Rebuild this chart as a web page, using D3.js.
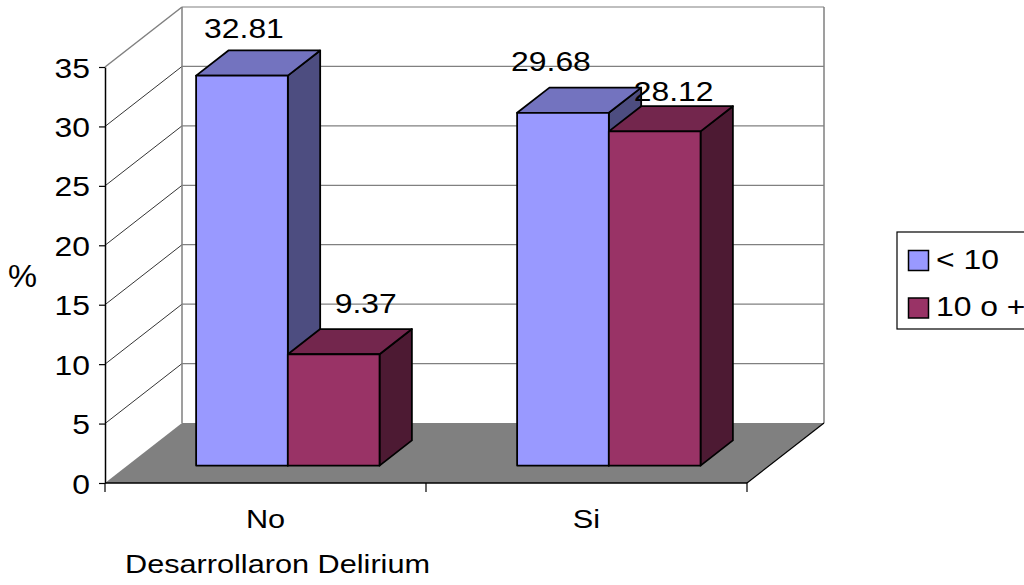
<!DOCTYPE html>
<html>
<head>
<meta charset="utf-8">
<script src="https://cdn.jsdelivr.net/npm/d3@7"></script>
<style>
  html, body { margin: 0; padding: 0; background: #ffffff; }
  svg { display: block; }
  text { font-family: "Liberation Sans", Arial, sans-serif; fill: #000; }
</style>
</head>
<body>
<svg id="chart" width="1024" height="585"></svg>
<script>
// Data
const categories = ["No", "Si"];
const seriesNames = ["< 10", "10 o +"];
const seriesLessThan10 = [32.81, 29.68];
const seriesTenOrMore = [9.37, 28.12];
const yTickValues = [0, 5, 10, 15, 20, 25, 30, 35];
const yAxisTitle = "%";
const xAxisTitle = "Desarrollaron Delirium";

const seriesValues = [seriesLessThan10, seriesTenOrMore];

// Styling / layout
const fronts = ["#9999ff", "#993366"];
const tops   = ["#7373bf", "#73264d"];
const sides  = ["#4d4d80", "#4d1a33"];
const DX = 77, DY = -60;            // depth vector of the 3D box
const barFront = 0.29, barBack = 0.71;
const SX = 1.18;                     // horizontal stretch of the lettering
// per-label nudges [series][category] relative to the bar's front top centre
const labelShift = [[[2, -38], [-12, -42]], [[32, -41], [19, -30]]];

const svg = d3.select("#chart");

const y = d3.scaleLinear().domain([0, 35]).range([483, 67]);
const x = d3.scaleBand().domain(categories).range([105, 747]).padding(0);
const barW = x.bandwidth() / 3.5;   // gap width 150%
const xs = d3.scaleBand().domain(d3.range(seriesNames.length))
  .range([0, barW * seriesNames.length]).padding(0);

const proj = (px, v, d) => [px + d * DX, y(v) + d * DY];
const line = d3.line();
const [x0, x1] = x.range();

// back wall gridlines
svg.append("g").selectAll("line").data(yTickValues.filter(v => v > 0)).join("line")
  .attr("x1", v => proj(x0, v, 1)[0]).attr("y1", v => proj(x0, v, 1)[1])
  .attr("x2", v => proj(x1, v, 1)[0]).attr("y2", v => proj(x1, v, 1)[1])
  .attr("stroke", "#808080").attr("stroke-width", 1.2);

// side wall gridlines
svg.append("g").selectAll("line").data(yTickValues.filter(v => v > 0)).join("line")
  .attr("x1", v => proj(x0, v, 0)[0]).attr("y1", v => proj(x0, v, 0)[1])
  .attr("x2", v => proj(x0, v, 1)[0]).attr("y2", v => proj(x0, v, 1)[1])
  .attr("stroke", v => v === 35 ? "#808080" : "#000").attr("stroke-width", v => v === 35 ? 1.5 : 0.8);

// walls outline
svg.append("path")
  .attr("d", line([proj(x0, 0, 1), proj(x0, 35, 1)]) + line([proj(x1, 0, 1), proj(x1, 35, 1)]))
  .attr("stroke", "#808080").attr("stroke-width", 1.5).attr("fill", "none");

// floor
svg.append("path")
  .attr("d", line([proj(x0, 0, 0), proj(x1, 0, 0), proj(x1, 0, 1), proj(x0, 0, 1)]) + "Z")
  .attr("fill", "#808080");
svg.append("path")
  .attr("d", line([proj(x1, 0, 0), proj(x1, 0, 1)]))
  .attr("stroke", "#000").attr("stroke-width", 1.2);

// y axis
const yAxis = d3.axisLeft(y).tickValues(yTickValues).tickSize(6).tickSizeOuter(0);
const gy = svg.append("g").attr("transform", `translate(${x0},0)`).call(yAxis);
gy.select(".domain").attr("stroke", "#000").attr("stroke-width", 1.5);
gy.selectAll(".tick line").attr("stroke", "#000").attr("stroke-width", 1.2);
gy.selectAll(".tick text")
  .attr("x", null).attr("dy", null)
  .attr("transform", `translate(-15,10) scale(${SX},1)`)
  .attr("text-anchor", "end")
  .style("font-size", "27px").style("font-family", "'Liberation Sans', Arial, sans-serif")
  .attr("fill", "#000");

// category axis
svg.append("line")
  .attr("x1", x0).attr("x2", x1).attr("y1", y(0)).attr("y2", y(0))
  .attr("stroke", "#000").attr("stroke-width", 1.5);
const boundaries = categories.map(c => x(c)).concat([x(categories[categories.length - 1]) + x.bandwidth()]);
svg.append("g").selectAll("line").data(boundaries).join("line")
  .attr("x1", d => d).attr("x2", d => d).attr("y1", y(0)).attr("y2", y(0) + 9)
  .attr("stroke", "#000").attr("stroke-width", 1.2);
svg.append("g").selectAll("text").data(categories).join("text")
  .attr("transform", c => `translate(${x(c) + x.bandwidth() / 2},528) scale(${SX},1)`)
  .attr("text-anchor", "middle").style("font-size", "26px").text(c => c);

// bars
const bars = [];
categories.forEach((c, ci) => {
  seriesValues.forEach((vals, si) => {
    const left = x(c) + x.bandwidth() / 2 - barW * seriesNames.length / 2 + xs(si);
    bars.push({ ci, si, v: vals[ci], left, right: left + barW });
  });
});
bars.sort((a, b) => a.left - b.left);

const gb = svg.append("g").attr("stroke", "#000").attr("stroke-width", 1.8).attr("stroke-linejoin", "round");
bars.forEach(b => {
  const f = barFront, k = barBack;
  gb.append("path").attr("fill", sides[b.si])
    .attr("d", line([proj(b.right, 0, f), proj(b.right, b.v, f), proj(b.right, b.v, k), proj(b.right, 0, k)]) + "Z");
  gb.append("path").attr("fill", tops[b.si])
    .attr("d", line([proj(b.left, b.v, f), proj(b.right, b.v, f), proj(b.right, b.v, k), proj(b.left, b.v, k)]) + "Z");
  gb.append("path").attr("fill", fronts[b.si])
    .attr("d", line([proj(b.left, 0, f), proj(b.right, 0, f), proj(b.right, b.v, f), proj(b.left, b.v, f)]) + "Z");
});

// value labels
svg.append("g").selectAll("text").data(bars).join("text")
  .attr("transform", b => {
    const [fx, fy] = proj((b.left + b.right) / 2, b.v, barFront);
    const [sx, sy] = labelShift[b.si][b.ci];
    return `translate(${fx + sx},${fy + sy}) scale(${SX},1)`;
  })
  .attr("text-anchor", "middle").style("font-size", "27px")
  .text(b => d3.format(".2f")(b.v));

// axis titles
svg.append("text").attr("transform", `translate(22.5,287) scale(1.02,1)`)
  .attr("text-anchor", "middle").style("font-size", "32px").text(yAxisTitle);
svg.append("text").attr("transform", `translate(277.5,573) scale(${SX},1)`)
  .attr("text-anchor", "middle").style("font-size", "26px").text(xAxisTitle);

// legend
const lg = svg.append("g").attr("transform", "translate(897,232)");
lg.append("rect").attr("x", 0).attr("y", 0).attr("width", 140).attr("height", 97)
  .attr("fill", "#fff").attr("stroke", "#000").attr("stroke-width", 1.2);
const items = lg.selectAll("g.item").data(seriesNames).join("g")
  .attr("transform", (d, i) => `translate(0,${i * 47.5})`);
items.append("rect").attr("x", 11.5).attr("y", 18.5).attr("width", 20).attr("height", 20)
  .attr("fill", (d, i) => fronts[i]).attr("stroke", "#000").attr("stroke-width", 1.5);
items.append("text").attr("transform", `translate(39,36.5) scale(${SX},1)`)
  .style("font-size", "27px").text(d => d);
</script>
</body>
</html>
